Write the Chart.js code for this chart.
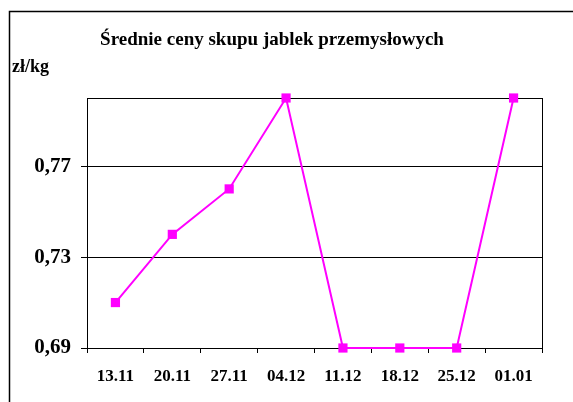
<!DOCTYPE html>
<html>
<head>
<meta charset="utf-8">
<script src="https://cdn.jsdelivr.net/npm/chart.js@4/dist/chart.umd.min.js"></script>
<style>
  html, body { margin: 0; padding: 0; background: #fff; }
  #wrap { width: 573px; height: 402px; }
</style>
</head>
<body>
<div id="wrap"><canvas id="myChart" width="573" height="402"></canvas></div>
<script>
// dane wykresu
const tygodnie = ['13.11', '20.11', '27.11', '04.12', '11.12', '18.12', '25.12', '01.01'];
const ceny = [0.71, 0.74, 0.76, 0.80, 0.69, 0.69, 0.69, 0.80];
const podzialkaY = [0.69, 0.73, 0.77];
const tytul = 'Średnie ceny skupu jablek przemysłowych';
const jednostka = 'zł/kg';

const FONT = '"Liberation Serif", "Times New Roman", serif';

// ramka, tytul i opis osi
const ramkaPlugin = {
    id: 'ramka',
    beforeDraw(chart) {
        const ctx = chart.ctx;
        ctx.save();
        ctx.fillStyle = '#fff';
        ctx.fillRect(0, 0, chart.width, chart.height);
        ctx.strokeStyle = '#000';
        ctx.lineWidth = 1.5;
        ctx.strokeRect(9.5, 11.5, chart.width + 20, chart.height + 20);
        ctx.fillStyle = '#000';
        ctx.font = 'bold 19px ' + FONT;
        ctx.textAlign = 'center';
        ctx.textBaseline = 'middle';
        ctx.fillText(tytul, 272, 40);
        ctx.font = 'bold 18px ' + FONT;
        ctx.textAlign = 'left';
        ctx.fillText(jednostka, 12, 67);
        ctx.restore();
    },
    beforeDatasetsDraw(chart) {
        const a = chart.chartArea;
        const ctx = chart.ctx;
        ctx.save();
        ctx.strokeStyle = '#000';
        ctx.lineWidth = 1;
        ctx.strokeRect(Math.round(a.left) + 0.5, Math.round(a.top) + 0.5,
            Math.round(a.right - a.left), Math.round(a.bottom - a.top));
        ctx.restore();
    }
};

new Chart(document.getElementById('myChart'), {
    type: 'line',
    data: {
        labels: tygodnie,
        datasets: [{
            data: ceny,
            borderColor: '#ff00ff',
            backgroundColor: '#ff00ff',
            borderWidth: 2,
            pointStyle: 'rect',
            pointRadius: 6.5,
            pointHoverRadius: 6.5,
            pointBorderWidth: 0,
            tension: 0,
            clip: false
        }]
    },
    options: {
        responsive: false,
        animation: false,
        layout: { padding: { top: 98, right: 31, left: 0, bottom: 0 } },
        plugins: {
            legend: { display: false },
            title: { display: false },
            tooltip: { enabled: false }
        },
        scales: {
            x: {
                type: 'category',
                offset: true,
                afterFit(scale) { scale.height = 54; },
                grid: {
                    offset: true,
                    drawOnChartArea: false,
                    color: '#000',
                    tickLength: 5
                },
                border: { color: '#000', width: 1 },
                ticks: {
                    color: '#000',
                    padding: 13,
                    maxRotation: 0,
                    font: { family: FONT, size: 17, weight: 'bold' }
                }
            },
            y: {
                min: 0.69,
                max: 0.80,
                afterFit(scale) { scale.width = 87; },
                afterBuildTicks(scale) {
                    scale.ticks = podzialkaY.map(v => ({ value: v }));
                },
                grid: {
                    color: '#000',
                    tickLength: 6
                },
                border: { color: '#000', width: 1 },
                ticks: {
                    color: '#000',
                    padding: 10,
                    font: { family: FONT, size: 21, weight: 'bold' },
                    callback: v => v.toFixed(2).replace('.', ',')
                }
            }
        }
    },
    plugins: [ramkaPlugin]
});
</script>
</body>
</html>
